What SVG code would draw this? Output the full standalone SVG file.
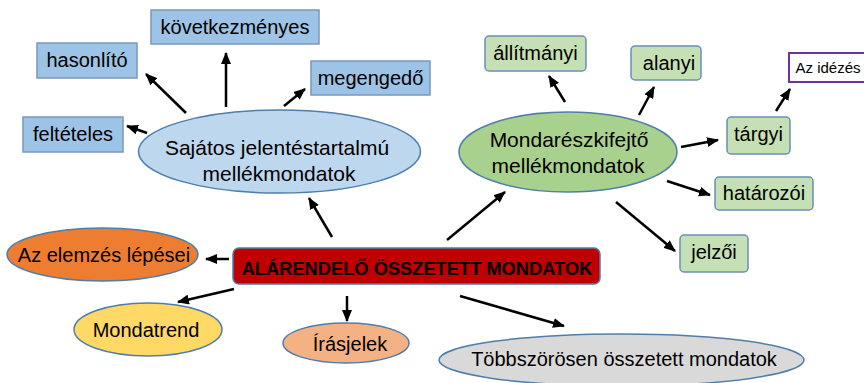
<svg xmlns="http://www.w3.org/2000/svg" width="864" height="383" viewBox="0 0 864 383">
<defs>
<marker id="ah" markerUnits="userSpaceOnUse" markerWidth="12" markerHeight="10" refX="11" refY="5" orient="auto">
<path d="M0,0 L12,5 L0,10 Z" fill="#000"/>
</marker>
<style>
text{font-family:"Liberation Sans",Arial,sans-serif;fill:#000;text-anchor:middle}
.t20{font-size:20px}
.t21{font-size:21px}
.bb{fill:#9dc3e6;stroke:#7a98b8;stroke-width:1.5}
.gb{fill:#c5e0b4;stroke:#6a8fb8;stroke-width:1.5}
.el{stroke:#4f7eab;stroke-width:1.5}
.ar{stroke:#000;stroke-width:2.5;fill:none;marker-end:url(#ah)}
</style>
</defs>
<rect width="864" height="383" fill="#fff"/>

<g id="kovetkezmenyes"><rect class="bb" x="151" y="10" width="168" height="34"/><text class="t20" x="235" y="34">következményes</text></g>
<g id="hasonlito"><rect class="bb" x="37" y="43" width="100" height="35"/><text class="t20" x="87" y="67">hasonlító</text></g>
<g id="megengedo"><rect class="bb" x="311" y="61" width="119" height="34"/><text class="t20" x="370.5" y="85">megengedő</text></g>
<g id="felteteles"><rect class="bb" x="23" y="117" width="100" height="35"/><text class="t20" x="73" y="141">feltételes</text></g>
<g id="sajatos"><ellipse class="el" cx="279.5" cy="151.5" rx="141" ry="41.5" fill="#bdd7ee"/><text class="t21" x="277" y="155">Sajátos jelentéstartalmú</text><text class="t21" x="279" y="181">mellékmondatok</text></g>

<g id="allitmanyi"><rect class="gb" x="485" y="36" width="101" height="35" rx="4"/><text class="t20" x="535.5" y="60">állítmányi</text></g>
<g id="alanyi"><rect class="gb" x="631" y="46" width="70" height="34" rx="4"/><text class="t20" x="669" y="70">alanyi</text></g>
<g id="azidezes"><rect x="789" y="53" width="80" height="29" fill="#fff" stroke="#7030a0" stroke-width="2"/><text x="828" y="73" style="font-size:15px">Az idézés</text></g>
<g id="targyi"><rect class="gb" x="727" y="117" width="63" height="37" rx="4"/><text class="t20" x="758.5" y="141">tárgyi</text></g>
<g id="hatarozoi"><rect class="gb" x="715" y="177" width="98" height="33" rx="4"/><text class="t20" x="764" y="200">határozói</text></g>
<g id="jelzoi"><rect class="gb" x="680" y="235" width="68" height="37" rx="4"/><text class="t20" x="714" y="259">jelzői</text></g>
<g id="mondareszkifejto"><ellipse class="el" cx="568" cy="152" rx="109" ry="40" fill="#a9d18e"/><text class="t21" x="569" y="147">Mondarészkifejtő</text><text class="t21" x="568" y="173">mellékmondatok</text></g>

<g id="alarendelo"><rect x="233" y="248" width="367" height="36" rx="6" fill="#c00000" stroke="#4f7eab" stroke-width="1.5"/><text x="417" y="275" style="font-size:18.3px;font-weight:bold">ALÁRENDELŐ ÖSSZETETT MONDATOK</text></g>
<g id="elemzes"><ellipse class="el" cx="102.5" cy="254.5" rx="95.5" ry="26.5" fill="#ed7d31"/><text class="t20" x="104" y="262">Az elemzés lépései</text></g>
<g id="mondatrend"><ellipse class="el" cx="148" cy="329.5" rx="74" ry="26.5" fill="#ffd966"/><text class="t20" x="146" y="337">Mondatrend</text></g>
<g id="irasjelek"><ellipse class="el" cx="346" cy="343" rx="63" ry="20" fill="#f4b183"/><text class="t20" x="350" y="351">Írásjelek</text></g>
<g id="tobbszorosen"><ellipse class="el" cx="621.5" cy="360" rx="182.5" ry="26" fill="#d9d9d9"/><text class="t20" x="624" y="366">Többszörösen összetett mondatok</text></g>

<g id="connectors">
<line class="ar" x1="147" y1="133" x2="127" y2="126"/>
<line class="ar" x1="186" y1="113" x2="146" y2="74"/>
<line class="ar" x1="226" y1="107" x2="226" y2="53"/>
<line class="ar" x1="284" y1="106" x2="305" y2="89"/>
<line class="ar" x1="332" y1="237" x2="309" y2="198"/>
<line class="ar" x1="447" y1="240" x2="505" y2="192"/>
<line class="ar" x1="229" y1="259" x2="206" y2="259"/>
<line class="ar" x1="234" y1="289" x2="178" y2="302"/>
<line class="ar" x1="347" y1="296" x2="347" y2="321"/>
<line class="ar" x1="460" y1="296" x2="564" y2="326"/>
<line class="ar" x1="565" y1="102" x2="549" y2="76"/>
<line class="ar" x1="639" y1="115" x2="654" y2="87"/>
<line class="ar" x1="681" y1="147" x2="718" y2="140"/>
<line class="ar" x1="667" y1="181" x2="710" y2="195"/>
<line class="ar" x1="616" y1="202" x2="675" y2="251"/>
<line class="ar" x1="776" y1="111" x2="790" y2="89"/>
</g>
</svg>
